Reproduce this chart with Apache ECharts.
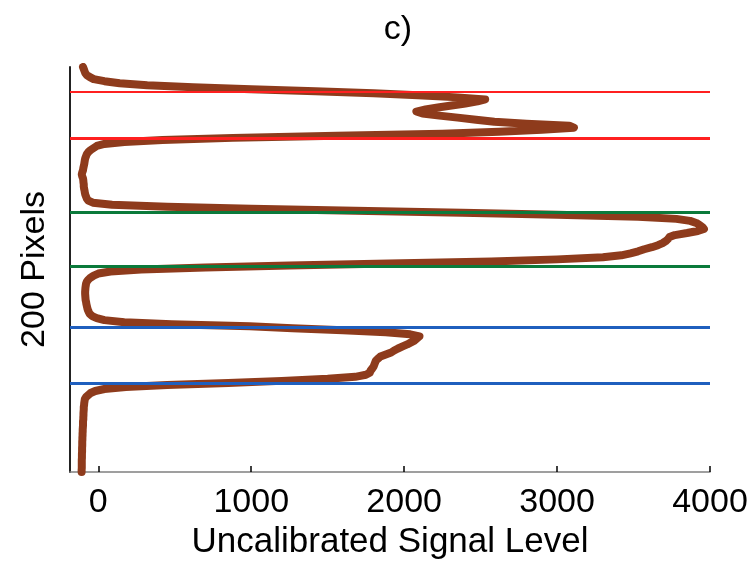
<!DOCTYPE html>
<html>
<head>
<meta charset="utf-8">
<script src="https://cdn.jsdelivr.net/npm/echarts@6/dist/echarts.min.js"></script>
<style>
html,body{margin:0;padding:0;background:#fff;}
#chart{width:752px;height:566px;}
</style>
</head>
<body>
<div id="chart"></div>
<script>
// Pixel row index (0 = top of the 200-pixel profile)
const rowIndex = [
0,1,2,3,4,5,6,7,8,9,10,11,12,13,14,15,16,17,18,19,
20,21,22,23,24,25,26,27,28,29,30,31,32,33,34,35,36,37,38,39,
40,41,42,43,44,45,46,47,48,49,50,51,52,53,54,55,56,57,58,59,
60,61,62,63,64,65,66,67,68,69,70,71,72,73,74,75,76,77,78,79,
80,81,82,83,84,85,86,87,88,89,90,91,92,93,94,95,96,97,98,99,
100,101,102,103,104,105,106,107,108,109,110,111,112,113,114,115,116,117,118,119,
120,121,122,123,124,125,126,127,128,129,130,131,132,133,134,135,136,137,138,139,
140,141,142,143,144,145,146,147,148,149,150,151,152,153,154,155,156,157,158,159,
160,161,162,163,164,165,166,167,168,169,170,171,172,173,174,175,176,177,178,179,
180,181,182,183,184,185,186,187,188,189,190,191,192,193,194,195,196,197,198,199,
200
];
// Uncalibrated signal level for each row
const signalLevel = [
-100,-95,-90,-85,-75,-55,-30,40,140,320,620,1000,1420,1800,2090,2350,2530,2480,2400,2310,
2220,2140,2080,2120,2230,2350,2470,2590,2800,3080,3110,2900,2620,2250,1560,880,420,170,40,-10,
-30,-50,-65,-75,-80,-85,-88,-90,-92,-95,-98,-100,-105,-108,-105,-100,-98,-97,-95,-95,
-93,-90,-88,-85,-80,-75,-65,-35,90,450,1000,1680,2380,3000,3530,3780,3870,3910,3930,3950,
3960,3920,3850,3770,3735,3725,3710,3690,3660,3620,3570,3530,3480,3420,3300,3000,2570,1900,1250,700,
280,80,0,-30,-50,-65,-75,-80,-82,-84,-85,-86,-86,-85,-84,-83,-80,-78,-75,-72,
-68,-62,-55,-40,-10,40,170,480,990,1270,1600,1880,2040,2100,2085,2070,2045,2020,1990,1960,
1935,1915,1880,1845,1830,1815,1810,1805,1800,1790,1780,1775,1750,1680,1500,1200,850,450,180,40,
-20,-50,-65,-80,-88,-90,-92,-93,-95,-95,-96,-97,-97,-98,-98,-100,-100,-100,-101,-102,
-102,-103,-103,-104,-104,-105,-105,-105,-106,-106,-106,-107,-107,-107,-108,-108,-108,-108,-108,-109,
-109
];
// Horizontal region boundaries (pixel rows)
const redLines = [12.2, 35.2];
const greenLines = [71.9, 98.6];
const blueLines = [128.7, 156.2];
// X axis ticks
const xTicks = [0, 1000, 2000, 3000, 4000];
const xMin = -185, xMax = 4000;

const curve = rowIndex.map((r, i) => [signalLevel[i], r]);

function boundary(vals, color, widths) {
  return {
    type: 'line', data: [], z: 5,
    markLine: {
      silent: true, symbol: ['none', 'none'], label: {show: false},
      animation: false,
      data: vals.map((v, i) => ({yAxis: v, lineStyle: {color: color, width: widths[i], type: 'solid'}}))
    }
  };
}

const chart = echarts.init(document.getElementById('chart'), null, {renderer: 'canvas'});
const font = "'Liberation Sans', Arial, sans-serif";
chart.setOption({
  animation: false,
  backgroundColor: '#ffffff',
  title: {
    text: 'c)', left: 393, top: 8, textAlign: 'center',
    textStyle: {fontFamily: font, fontSize: 34, fontWeight: 'normal', color: '#000'}
  },
  grid: {left: 70, right: 42, top: 67, bottom: 94, containLabel: false},
  xAxis: {
    type: 'value', min: xMin, max: xMax,
    axisLine: {show: true, onZero: false, lineStyle: {color: '#808080', width: 1.5}},
    axisTick: {show: true, inside: true, length: 6, customValues: xTicks, lineStyle: {color: '#000', width: 1.5}},
    axisLabel: {show: true, customValues: xTicks, margin: 14, fontFamily: font, fontSize: 34, color: '#000',
      formatter: v => String(v)},
    splitLine: {show: false},
    name: 'Uncalibrated Signal Level', nameLocation: 'middle', nameGap: 50,
    nameTextStyle: {fontFamily: font, fontSize: 35, color: '#000'}
  },
  yAxis: {
    type: 'value', min: 0, max: 200, inverse: true,
    axisLine: {show: true, onZero: false, lineStyle: {color: '#222', width: 2}},
    axisTick: {show: false}, axisLabel: {show: false}, splitLine: {show: false},
    name: '200 Pixels', nameLocation: 'middle', nameGap: 18, nameRotate: 90,
    nameTextStyle: {fontFamily: font, fontSize: 34, color: '#000'}
  },
  series: [
    {
      type: 'line', data: curve, z: 3, showSymbol: false, symbol: 'none',
      smooth: false,
      lineStyle: {color: '#8E3B1C', width: 8, cap: 'round', join: 'round'}
    },
    boundary(redLines, '#FF2020', [2, 3]),
    boundary(greenLines, '#0B7A3B', [3, 3]),
    boundary(blueLines, '#1F5FBE', [3, 3])
  ]
});
</script>
</body>
</html>
